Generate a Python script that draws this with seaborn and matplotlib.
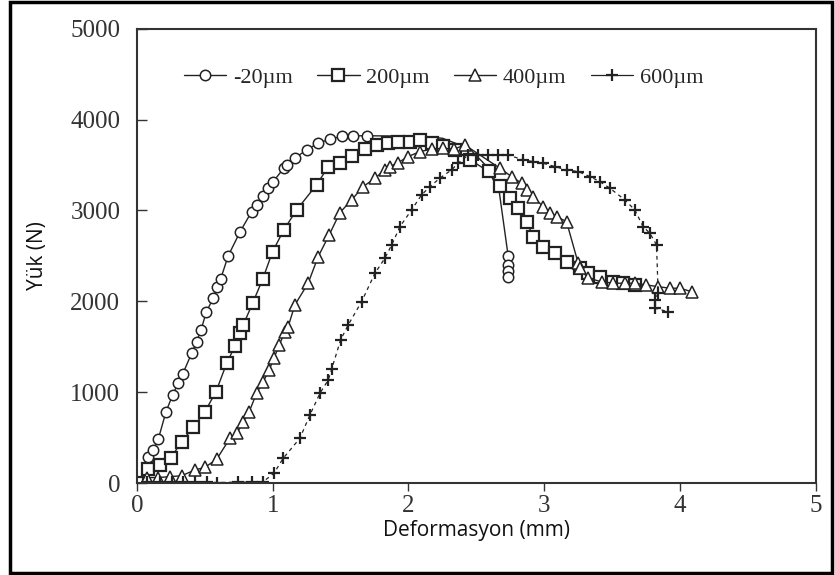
import numpy as np
import seaborn as sns
import matplotlib.pyplot as plt
from matplotlib.patches import Rectangle

# -20 um (circles); last part of the line runs hidden behind the squares
x_m20 = [0.083, 0.120, 0.157, 0.214, 0.263, 0.304, 0.337, 0.403, 0.440, 0.472,
         0.512, 0.562, 0.591, 0.616, 0.672, 0.758, 0.845, 0.881, 0.930, 0.967,
         1.004, 1.082, 1.102, 1.163, 1.250, 1.335, 1.421, 1.507, 1.593, 1.691,
         1.85, 2.05, 2.25, 2.45, 2.58, 2.67,
         2.734, 2.734, 2.734, 2.734]
y_m20 = [290, 363, 481, 785, 969, 1098, 1200, 1428, 1556, 1685,
         1887, 2034, 2162, 2243, 2500, 2760, 2988, 3062, 3161, 3245,
         3318, 3466, 3502, 3576, 3667, 3741, 3785, 3814, 3822, 3822,
         3820, 3815, 3795, 3680, 3480, 3190,
         2500, 2400, 2330, 2270]
m20_marks = list(range(30)) + [36, 37, 38, 39]

# 200 um (squares)
x_200 = [0.0, 0.083, 0.169, 0.248, 0.329, 0.415, 0.501, 0.582, 0.661, 0.722,
         0.758, 0.783, 0.852, 0.926, 0.999, 1.082, 1.176, 1.323, 1.409, 1.495,
         1.581, 1.679, 1.765, 1.851, 1.924, 2.010, 2.084, 2.170, 2.255, 2.342,
         2.45, 2.59, 2.673, 2.747, 2.808, 2.870, 2.918, 2.992, 3.078, 3.164,
         3.262, 3.323, 3.409, 3.507, 3.581, 3.667]
y_200 = [0, 151, 198, 272, 455, 613, 785, 1005, 1318, 1508,
         1655, 1740, 1979, 2243, 2547, 2786, 3006, 3281, 3483, 3520,
         3600, 3674, 3721, 3747, 3758, 3758, 3776, 3740, 3710, 3666,
         3560, 3430, 3264, 3135, 3025, 2878, 2713, 2602, 2530, 2437,
         2364, 2310, 2272, 2217, 2199, 2180]

# 400 um (triangles)
x_400 = [0.071, 0.157, 0.243, 0.329, 0.427, 0.501, 0.587, 0.685, 0.739, 0.783,
         0.827, 0.881, 0.930, 0.974, 1.009, 1.048, 1.090, 1.114, 1.163, 1.261,
         1.335, 1.416, 1.495, 1.581, 1.666, 1.753, 1.826, 1.863, 1.924, 1.998,
         2.084, 2.170, 2.255, 2.334, 2.415, 2.673, 2.759, 2.833, 2.870, 2.918,
         2.992, 3.041, 3.091, 3.164, 3.250, 3.262, 3.323, 3.422, 3.507, 3.594,
         3.667, 3.753, 3.839, 3.925, 3.999, 4.085]
y_400 = [60, 60, 70, 80, 143, 173, 261, 492, 554, 675,
         785, 988, 1115, 1244, 1373, 1519, 1666, 1721, 1960, 2199,
         2492, 2731, 2976, 3116, 3262, 3355, 3446, 3483, 3527, 3593,
         3648, 3674, 3685, 3674, 3721, 3465, 3373, 3300, 3226, 3152,
         3042, 2969, 2932, 2877, 2419, 2364, 2254, 2216, 2199, 2199,
         2199, 2180, 2161, 2144, 2144, 2106]

# 600 um (plus)
x_600 = [0.071, 0.169, 0.256, 0.341, 0.427, 0.513, 0.591, 0.746, 0.845, 0.930,
         1.009, 1.077, 1.200, 1.274, 1.348, 1.409, 1.434, 1.500, 1.556, 1.655,
         1.753, 1.826, 1.876, 1.937, 2.023, 2.096, 2.158, 2.231, 2.317, 2.366,
         2.440, 2.513, 2.587, 2.661, 2.734, 2.845, 2.918, 2.992, 3.078, 3.164,
         3.250, 3.336, 3.409, 3.483, 3.594, 3.667, 3.728, 3.778, 3.827, 3.839,
         3.814, 3.814, 3.912]
y_600 = [10, 10, 10, 10, 10, 10, 5, 10, 10, 15,
         107, 272, 492, 749, 988, 1134, 1252, 1575, 1740, 1997,
         2309, 2474, 2620, 2822, 3006, 3171, 3262, 3355, 3446, 3520,
         3611, 3611, 3611, 3611, 3611, 3556, 3538, 3520, 3483, 3446,
         3428, 3373, 3318, 3245, 3116, 3006, 2822, 2749, 2620, 2089,
         2015, 1924, 1886]

labels = ['-20\u00b5m', '200\u00b5m', '400\u00b5m', '600\u00b5m']

sns.set_style('ticks')
plt.rcParams['font.family'] = 'serif'
plt.rcParams['font.serif'] = ['Liberation Serif', 'Times New Roman', 'DejaVu Serif']

ink = '#222222'
fig = plt.figure(figsize=(8.35, 5.75), dpi=100)
ax = fig.add_axes([0.164, 0.16, 0.813, 0.79])

common = dict(ax=ax, sort=False, estimator=None, color=ink, linewidth=1.0)
sns.lineplot(x=x_m20, y=y_m20, label=labels[0], marker='o', markersize=7.5,
             markerfacecolor='white', markeredgecolor=ink, markeredgewidth=1.1,
             markevery=m20_marks, **common)
sns.lineplot(x=x_200, y=y_200, label=labels[1], marker='s', markersize=8,
             markerfacecolor='white', markeredgecolor=ink, markeredgewidth=1.6,
             **common)
sns.lineplot(x=x_400, y=y_400, label=labels[2], marker='^', markersize=8.5,
             markerfacecolor='white', markeredgecolor=ink, markeredgewidth=1.1,
             **common)
sns.lineplot(x=x_600, y=y_600, label=labels[3], marker='+', markersize=9,
             markeredgewidth=1.6, markeredgecolor=ink, linestyle=(0, (3, 3)),
             ax=ax, sort=False, estimator=None, color=ink, linewidth=0.9)

ax.set_xlim(0, 5)
ax.set_ylim(0, 5000)
ax.set_xticks(range(6))
ax.set_yticks(range(0, 5001, 1000))
ax.tick_params(axis='x', direction='out', length=6, width=1, colors='#333333',
               labelsize=18, pad=3)
ax.tick_params(axis='y', direction='in', length=7, width=1, colors='#333333',
               labelsize=18, pad=12)
for s in ax.spines.values():
    s.set_visible(True)
    s.set_linewidth(1.5)
    s.set_color('#333333')

ax.set_xlabel('Deformasyon (mm)', family='Open Sans', fontsize=15, color='#111111',
              labelpad=2)
ax.set_ylabel('Yük (N)', family='Open Sans', fontsize=15, color='#111111',
              labelpad=16)

leg = ax.legend(loc='center', bbox_to_anchor=(0.452, 0.892), ncol=4, frameon=False,
                fontsize=16, handlelength=1.9, handletextpad=0.3, columnspacing=1.1)
leg.get_lines()[3].set_linestyle('-')

fig.patches.append(Rectangle((0.012, 0.004), 0.985, 0.992, transform=fig.transFigure,
                             fill=False, lw=2.5, ec='black'))

fig.savefig('out.png', dpi=100)
